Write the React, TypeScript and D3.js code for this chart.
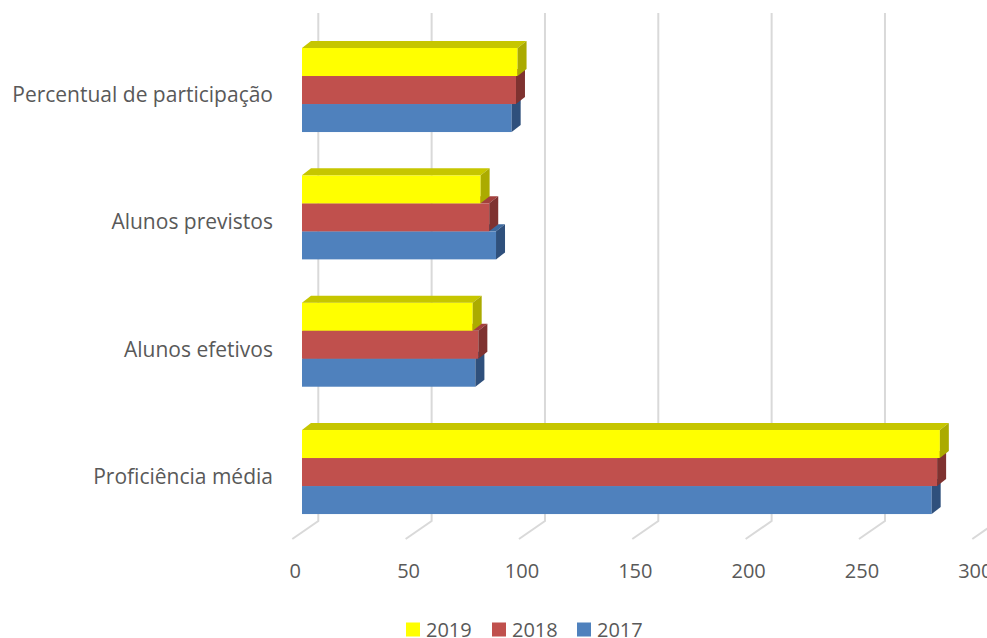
import React from "react";
import * as d3 from "d3";

const categories = [
  "Percentual de participação",
  "Alunos previstos",
  "Alunos efetivos",
  "Proficiência média",
];
const seriesNames = ["2019", "2018", "2017"];
const values2019 = [95.1, 78.8, 75.3, 281.4];
const values2018 = [94.4, 82.6, 77.8, 280.2];
const values2017 = [92.5, 85.6, 76.5, 277.8];
const tickValues = [0, 50, 100, 150, 200, 250, 300];

const W = 987;
const H = 638;

const colors: Record<string, { front: string; top: string; side: string }> = {
  "2019": { front: "#FFFF00", top: "#C6C600", side: "#ABAB00" },
  "2018": { front: "#C0504D", top: "#A3403D", side: "#7F3230" },
  "2017": { front: "#4F81BD", top: "#3E6A9E", side: "#2F507C" },
};

export default function App() {
  const seriesValues: Record<string, number[]> = {
    "2019": values2019,
    "2018": values2018,
    "2017": values2017,
  };
  // back wall scale (gridlines)
  const xBack = d3.scaleLinear().domain([0, 300]).range([318.3, 998.3]);
  // front face of bars
  const xFront = d3.scaleLinear().domain([0, 300]).range([302, 982]);
  const y = d3
    .scaleBand<string>()
    .domain(categories)
    .range([26.35, 535.7])
    .paddingInner(0.34)
    .paddingOuter(0.17);
  const ySeries = d3
    .scaleBand<string>()
    .domain(seriesNames)
    .range([0, y.bandwidth()])
    .padding(0);

  const dx = 9;
  const dy = -7;
  const gridTop = 13;
  const gridBottom = 521;
  const floorDx = -26;
  const floorDy = 18;

  const font = "'Open Sans', 'Noto Sans', sans-serif";
  const textColor = "#595959";

  const drawOrder = ["2017", "2018", "2019"];

  return (
    <div style={{ position: "absolute", left: 0, top: 0 }}>
      <svg width={W} height={H} style={{ display: "block", background: "#fff" }}>
        {/* gridlines */}
        {tickValues.map((t) => {
          const xb = xBack(t);
          return (
            <g key={"g" + t}>
              <polyline
                points={`${xb},${gridTop} ${xb},${gridBottom} ${xb + floorDx},${gridBottom + floorDy}`}
                fill="none"
                stroke="#D9D9D9"
                strokeWidth={2}
              />
              <text
                x={xb - 23}
                y={578}
                textAnchor="middle"
                fontFamily={font}
                fontSize={20}
                fill={textColor}
              >
                {t}
              </text>
            </g>
          );
        })}
        {/* bars */}
        {categories.map((c, ci) => (
          <g key={c}>
            {drawOrder.map((s) => {
              const v = seriesValues[s][ci];
              const x0 = xFront(0);
              const xr = xFront(v);
              const yt = (y(c) as number) + (ySeries(s) as number);
              const yb = yt + ySeries.bandwidth();
              const col = colors[s];
              return (
                <g key={s}>
                  <rect x={x0} y={yt} width={xr - x0} height={yb - yt} fill={col.front} />
                  <polygon
                    points={`${x0},${yt} ${x0 + dx},${yt + dy} ${xr + dx},${yt + dy} ${xr},${yt}`}
                    fill={col.top}
                  />
                  <polygon
                    points={`${xr},${yt} ${xr + dx},${yt + dy} ${xr + dx},${yb + dy} ${xr},${yb}`}
                    fill={col.side}
                  />
                </g>
              );
            })}
            <text
              x={273}
              y={(y(c) as number) + y.bandwidth() / 2 + 12}
              textAnchor="end"
              fontFamily={font}
              fontSize={21}
              fill={textColor}
            >
              {c}
            </text>
          </g>
        ))}
        {/* legend */}
        {seriesNames.map((s, i) => {
          const lx = [406, 492, 577][i];
          return (
            <g key={"l" + s}>
              <rect x={lx} y={622.5} width={14} height={14} fill={colors[s].front} />
              <text
                x={lx + 20}
                y={636.5}
                fontFamily={font}
                fontSize={20}
                fill={textColor}
              >
                {s}
              </text>
            </g>
          );
        })}
      </svg>
    </div>
  );
}
